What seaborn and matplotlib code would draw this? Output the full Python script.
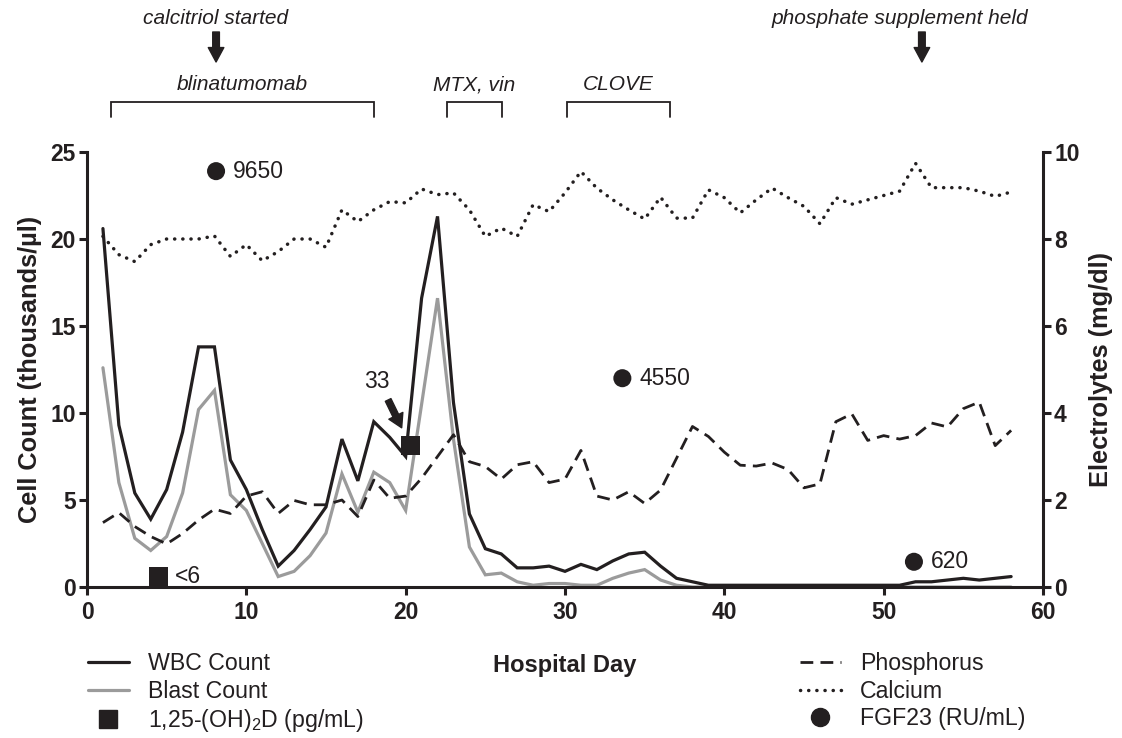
import numpy as np
import pandas as pd
import matplotlib
matplotlib.use("Agg")
import matplotlib.pyplot as plt
import seaborn as sns
from matplotlib.lines import Line2D
from matplotlib import transforms

# ---------------- data ----------------
days = list(range(1, 59))
wbc = [20.6, 9.3, 5.4, 3.9, 5.6, 8.9, 13.8, 13.8, 7.3, 5.6,
       3.3, 1.2, 2.1, 3.3, 4.6, 8.5, 6.1, 9.5, 8.6, 7.5,
       16.6, 21.3, 10.6, 4.2, 2.2, 1.9, 1.1, 1.1, 1.2, 0.9,
       1.3, 1.0, 1.5, 1.9, 2.0, 1.2, 0.5, 0.3, 0.1, 0.1,
       0.1, 0.1, 0.1, 0.1, 0.1, 0.1, 0.1, 0.1, 0.1, 0.1,
       0.1, 0.3, 0.3, 0.4, 0.5, 0.4, 0.5, 0.6]
blast = [12.6, 6.0, 2.8, 2.1, 2.9, 5.4, 10.2, 11.3, 5.3, 4.4,
         2.5, 0.6, 0.9, 1.8, 3.1, 6.5, 4.3, 6.6, 6.0, 4.4,
         10.5, 16.6, 8.5, 2.3, 0.7, 0.8, 0.3, 0.1, 0.2, 0.2,
         0.1, 0.1, 0.5, 0.8, 1.0, 0.4, 0.1, 0.0, 0.0, 0.0,
         0.0, 0.0, 0.0, 0.0, 0.0, 0.0, 0.0, 0.0, 0.0, 0.0,
         0.0, 0.0, 0.0, 0.0, 0.0, 0.0, 0.0, 0.0]
phosphorus = [1.48, 1.71, 1.39, 1.16, 0.99, 1.23, 1.54, 1.79, 1.69, 2.09,
              2.19, 1.69, 1.99, 1.89, 1.89, 2.0, 1.62, 2.46, 2.04, 2.09,
              2.5, 3.0, 3.5, 2.88, 2.77, 2.48, 2.81, 2.88, 2.4, 2.48,
              3.14, 2.09, 2.0, 2.19, 1.92, 2.23, 2.96, 3.69, 3.46, 3.1,
              2.8, 2.78, 2.85, 2.7, 2.28, 2.37, 3.8, 3.98, 3.37, 3.48,
              3.4, 3.48, 3.77, 3.68, 4.1, 4.25, 3.25, 3.6]
calcium = [8.06, 7.64, 7.48, 7.87, 8.0, 8.0, 8.0, 8.07, 7.6, 7.87,
           7.5, 7.71, 8.0, 8.0, 7.81, 8.67, 8.4, 8.67, 8.86, 8.83,
           9.15, 9.02, 9.06, 8.67, 8.06, 8.25, 8.06, 8.79, 8.63, 9.06,
           9.55, 9.17, 8.9, 8.67, 8.46, 8.96, 8.48, 8.48, 9.13, 8.95,
           8.6, 8.9, 9.17, 8.95, 8.75, 8.35, 8.95, 8.8, 8.9, 9.0,
           9.1, 9.74, 9.18, 9.18, 9.18, 9.1, 8.98, 9.08]

fgf23_day = [8.1, 33.6, 51.9]
fgf23_pos = [23.9, 12.0, 1.45]
fgf23_label = ["9650", "4550", "620"]

vitd_day = [4.5, 20.3]
vitd_pos = [0.6, 8.15]
vitd_label = ["<6", "33"]

treat_names = ["blinatumomab", "MTX, vin", "CLOVE"]
treat_start = [1.5, 22.6, 30.1]
treat_end = [18.0, 26.05, 36.6]

event_names = ["calcitriol started", "phosphate supplement held"]
event_day = [8.1, 52.4]
event_text_day = [8.1, 51.0]

xticks = [0, 10, 20, 30, 40, 50, 60]
yticks_left = [0, 5, 10, 15, 20, 25]
yticks_right = [0, 2, 4, 6, 8, 10]

# ---------------- style ----------------
sns.set_theme(style="ticks")
plt.rcParams["font.family"] = ["Liberation Sans", "DejaVu Sans"]
plt.rcParams["mathtext.fontset"] = "custom"
plt.rcParams["mathtext.rm"] = "Liberation Sans"
plt.rcParams["mathtext.it"] = "Liberation Sans:italic"

K = "#231f20"
GRAY = "#9b9b9b"
SPW = 2.2

fig = plt.figure(figsize=(11.22, 7.38), dpi=100)
ax = fig.add_axes([87 / 1122, 151 / 738, 956 / 1122, 435 / 738])
ax2 = ax.twinx()

df_cells = pd.DataFrame({"day": days, "wbc": wbc, "blast": blast})
df_elec = pd.DataFrame({"day": days, "phos": phosphorus, "ca": calcium})

sns.lineplot(data=df_cells, x="day", y="blast", ax=ax, color=GRAY, lw=2.3,
             solid_joinstyle="miter", zorder=2)
sns.lineplot(data=df_cells, x="day", y="wbc", ax=ax, color=K, lw=2.3,
             solid_joinstyle="miter", zorder=3)
sns.lineplot(data=df_elec, x="day", y="phos", ax=ax2, color=K, lw=2.0,
             linestyle=(0, (4.6, 2.6)), zorder=3)
sns.lineplot(data=df_elec, x="day", y="ca", ax=ax2, color=K, lw=2.5,
             linestyle=(0, (0.05, 2.3)), dash_capstyle="round", zorder=3)

# markers
sns.scatterplot(x=vitd_day, y=vitd_pos, ax=ax, marker="s", s=13.5 ** 2,
                color=K, edgecolor="none", zorder=6, clip_on=False)
sns.scatterplot(x=fgf23_day, y=fgf23_pos, ax=ax, marker="o", s=13 ** 2,
                color=K, edgecolor="none", zorder=6, clip_on=False)

for d, p, lab in zip(fgf23_day, fgf23_pos, fgf23_label):
    ax.annotate(lab, xy=(d, p), xytext=(12, 0), textcoords="offset points",
                ha="left", va="center", fontsize=16.5, color=K, zorder=7)

ax.annotate(vitd_label[0], xy=(vitd_day[0], vitd_pos[0]), xytext=(12, 0),
            textcoords="offset points", ha="left", va="center",
            fontsize=16.5, color=K, zorder=7)
ax.annotate(vitd_label[1], xy=(vitd_day[1], vitd_pos[1]), xytext=(-24, 46),
            textcoords="offset points", ha="center", va="center",
            fontsize=16.5, color=K, zorder=7)
ax.annotate("", xy=(vitd_day[1] - 0.55, vitd_pos[1] + 1.0),
            xytext=(vitd_day[1] - 1.4, vitd_pos[1] + 2.6),
            arrowprops=dict(arrowstyle="simple,head_length=0.6,head_width=0.7,tail_width=0.28",
                            mutation_scale=16, color=K, shrinkA=0, shrinkB=0),
            zorder=7)

# ---------------- axes ----------------
ax.set_xlim(0, 60)
ax.set_ylim(0, 25)
ax2.set_ylim(0, 10)
ax.set_xticks(xticks)
ax.set_yticks(yticks_left)
ax2.set_yticks(yticks_right)

for a in (ax, ax2):
    a.spines["top"].set_visible(False)
    for s in ("left", "right", "bottom"):
        a.spines[s].set_linewidth(SPW)
        a.spines[s].set_color(K)
    a.tick_params(width=SPW, length=6, color=K, labelsize=16.5, labelcolor=K, pad=2)
    for lab in a.get_xticklabels() + a.get_yticklabels():
        lab.set_fontweight("bold")
ax.spines["right"].set_visible(False)
ax2.spines["left"].set_visible(False)
ax2.spines["bottom"].set_visible(False)
ax.tick_params(axis="x", pad=4)

ax.set_xlabel("Hospital Day", fontsize=17, fontweight="bold", color=K, labelpad=22)
ax.set_ylabel("Cell Count (thousands/µl)", fontsize=18.3, fontweight="bold",
              color=K, labelpad=6)
ax2.set_ylabel("Electrolytes (mg/dl)", fontsize=18.3, fontweight="bold", color=K,
               labelpad=7, rotation=90)
ax.grid(False)
ax2.grid(False)

# ---------------- top annotations ----------------
blend = transforms.blended_transform_factory(ax.transData, fig.transFigure)
y_bracket_top = 1 - 102 / 738
y_bracket_bot = 1 - 117 / 738
y_treat_text = 1 - 85 / 738
for name, s, e in zip(treat_names, treat_start, treat_end):
    ax.plot([s, s, e, e], [y_bracket_bot, y_bracket_top, y_bracket_top, y_bracket_bot],
            transform=blend, color=K, lw=1.3, clip_on=False, solid_joinstyle="miter")
    ax.text((s + e) / 2, y_treat_text, name, transform=blend, ha="center",
            va="center", fontsize=15, style="italic", color=K)

for name, d, td in zip(event_names, event_day, event_text_day):
    ax.text(td, 1 - 18 / 738, name, transform=blend, ha="center", va="center",
            fontsize=15, style="italic", color=K)
    ax.annotate("", xy=(d, 1 - 62 / 738), xytext=(d, 1 - 32 / 738),
                xycoords=blend, textcoords=blend,
                arrowprops=dict(arrowstyle="simple,head_length=0.65,head_width=0.7,tail_width=0.3",
                                mutation_scale=16, color=K, shrinkA=0, shrinkB=0),
                annotation_clip=False)

# ---------------- legends ----------------
h_left = [Line2D([], [], color=K, lw=2.3),
          Line2D([], [], color=GRAY, lw=2.3),
          Line2D([], [], color=K, marker="s", ls="none", markersize=13)]
l_left = ["WBC Count", "Blast Count", "1,25-(OH)$_2$D (pg/mL)"]
leg1 = fig.legend(h_left, l_left, loc="upper left",
                  bbox_to_anchor=(88 / 1122, 1 - 652 / 738), frameon=False,
                  fontsize=16.7, handlelength=1.75, handletextpad=0.85,
                  labelspacing=0.2, borderpad=0, borderaxespad=0)
h_right = [Line2D([], [], color=K, lw=2.0, ls=(0, (4.6, 2.6))),
           Line2D([], [], color=K, lw=2.5, ls=(0, (0.05, 2.3)), dash_capstyle="round"),
           Line2D([], [], color=K, marker="o", ls="none", markersize=13)]
l_right = ["Phosphorus", "Calcium", "FGF23 (RU/mL)"]
leg2 = fig.legend(h_right, l_right, loc="upper left",
                  bbox_to_anchor=(800 / 1122, 1 - 652 / 738), frameon=False,
                  fontsize=16.7, handlelength=1.75, handletextpad=0.85,
                  labelspacing=0.2, borderpad=0, borderaxespad=0)
for lg in (leg1, leg2):
    for t in lg.get_texts():
        t.set_color(K)

fig.savefig("out.png", dpi=100)
